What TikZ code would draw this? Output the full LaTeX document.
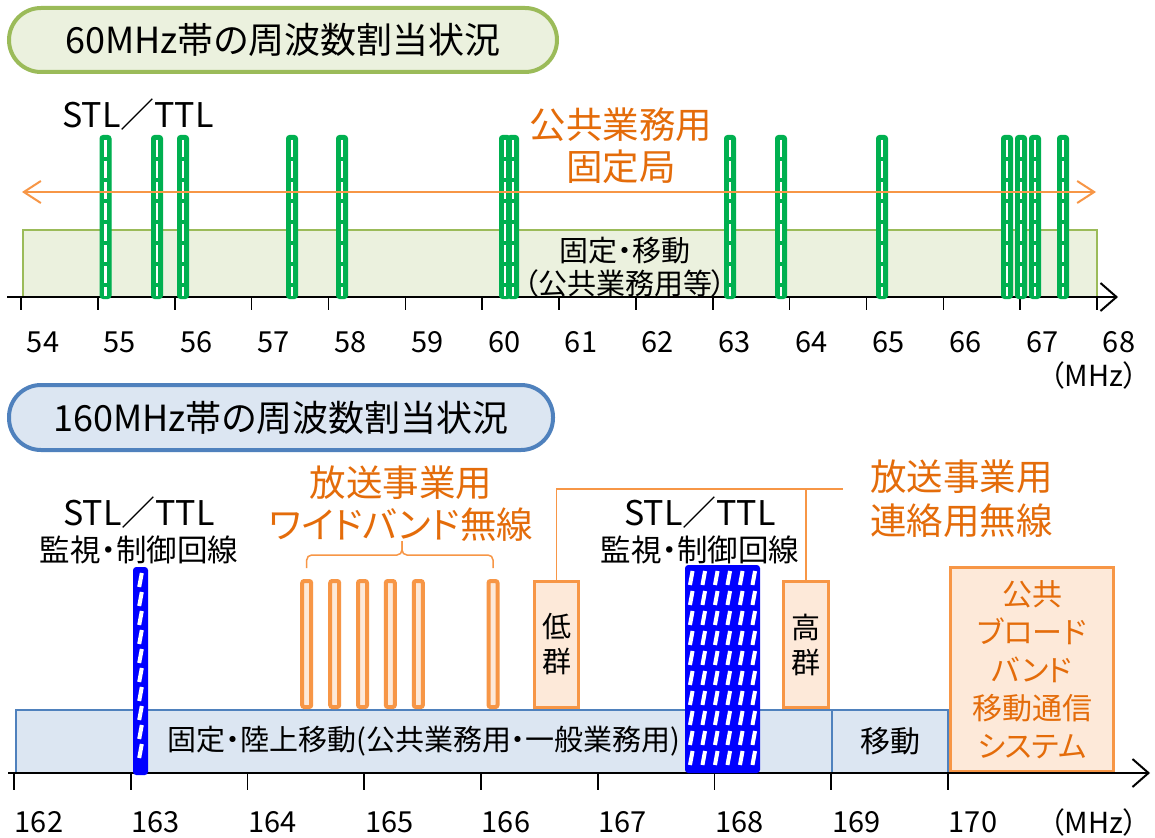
\documentclass[tikz,border=0pt]{standalone}
\usepackage{fontspec}
\setmainfont{Noto Sans CJK JP}[RawFeature=+palt]
\usetikzlibrary{arrows.meta}
\definecolor{gbord}{HTML}{9BBB59}
\definecolor{gfill}{HTML}{EBF1DE}
\definecolor{gbar}{HTML}{00B050}
\definecolor{oline}{HTML}{F79646}
\definecolor{otext}{HTML}{E46C0A}
\definecolor{ofill}{HTML}{FDE9D9}
\definecolor{bbord}{HTML}{4F81BD}
\definecolor{bfill}{HTML}{DCE6F2}
\definecolor{bbar}{HTML}{0000FF}
\newcommand\fsz[2]{\fontsize{#1}{#2}\selectfont}
\newcommand\stlw{{\fsz{34}{36}STL／TTL}}
\tikzset{
  pill/.style={rounded corners=32pt, line width=4pt, inner sep=0pt},
  lbl/.style={inner sep=0pt, align=center},
  axisline/.style={line width=2pt, -{Straight Barb[length=16pt,width=28pt,line width=2pt]}},
  tick/.style={line width=1.6pt},
  numlbl/.style={inner sep=0pt, font=\fsz{29}{34}},
  gbarbox/.style={fill=gbar, draw=gbar, line width=1pt, rounded corners=3pt, minimum width=11pt, minimum height=163pt, inner sep=0pt},
  whitedash/.style={white, line width=2.2pt, dash pattern=on 17pt off 4pt},
  bbarbox/.style={fill=bbar, draw=bbar, line width=3pt, rounded corners=2pt, inner sep=0pt},
  hatch/.style={white, line width=4pt},
  wbar/.style={fill=ofill, draw=oline, line width=4pt, rounded corners=2pt, minimum width=9pt, minimum height=126pt, inner sep=0pt},
  obox/.style={fill=ofill, draw=oline, line width=3.5pt, inner sep=0pt, align=center},
  bband/.style={fill=bfill, draw=bbord, line width=2.5pt, inner sep=0pt, align=center},
  oconn/.style={oline, line width=1.5pt},
}
\begin{document}
\begin{tikzpicture}[x=1pt,y=-1pt]
\useasboundingbox[fill=white] (0,0) rectangle (1155,837);

% ================= 60 MHz =================
\node[pill, draw=gbord, fill=gfill, minimum width=548pt, minimum height=64pt, font=\fsz{36}{40}] (title60) at (283,40) {60MHz帯の周波数割当状況};

\node[lbl] (stl60) at (138,115) {\stlw};

\node[fill=gfill, draw=gbord, line width=2pt, minimum width=1074pt, minimum height=67pt, inner sep=0pt] (band60) at (560,263.5) {};
\node[lbl, font=\fsz{29}{33}] (band60t) at (625,267.5) {固定・移動\\（公共業務用等）};

% axis
\coordinate (ax60s) at (7,297);
\coordinate (ax60e) at (1118,297);
\draw[axisline] (ax60s) -- (ax60e);
\foreach \v [count=\i from 0] in {54,...,68} {
  \coordinate (t60-\i) at ({21+76.86*\i},297);
  \draw[tick] (t60-\i) -- ++(0,13);
  \node[numlbl] (n60-\i) at ({43+76.86*\i},342) {\v};
}
\node[numlbl, anchor=east] (mhz60) at (1138,375) {（MHz）};

% green bars
\foreach \c [count=\i] in {105.5,157,183,292,342,505,513,730,781,882,1007,1021,1035,1063} {
  \node[gbarbox] (g\i) at (\c,217) {};
}
\foreach \i in {1,...,14} {
  \draw[whitedash] ([yshift=-5pt]g\i.north) -- ([yshift=3pt]g\i.south);
}

% orange arrow
\coordinate (oa1) at (22,192);
\coordinate (oa2) at (1096,192);
\draw[oline, line width=2pt, {Straight Barb[length=17pt,width=22pt,line width=2pt]}-{Straight Barb[length=17pt,width=22pt,line width=2pt]}] (oa1) -- (oa2);
\node[lbl, text=otext, font=\fsz{36.5}{42}] (pub60) at (621,146) {公共業務用\\固定局};

% ================= 160 MHz =================
\node[pill, draw=bbord, fill=bfill, minimum width=544pt, minimum height=65pt, font=\fsz{36}{40}] (title160) at (281,417.5) {160MHz帯の周波数割当状況};

\node[lbl, font=\fsz{30.5}{36}] (stl1) at (139,530) {\stlw\\監視・制御回線};
\node[lbl, font=\fsz{30.5}{36}] (stl2) at (700,530) {\stlw\\監視・制御回線};
\node[lbl, text=otext, font=\fsz{36.5}{42.5}] (wide) at (401,503.5) {放送事業用\\ワイドバンド無線};
\node[lbl, text=otext, font=\fsz{36.5}{44}, anchor=west, align=left] (renr) at (870,499) {放送事業用\\連絡用無線};

% bands
\node[bband, minimum width=816pt, minimum height=63pt, font=\fsz{29}{34}] (main) at (424,741.5) {\raisebox{-3pt}{固定・陸上移動(公共業務用・一般業務用)}};
\node[bband, minimum width=116pt, minimum height=63pt, font=\fsz{30}{34}] (ido) at (890,741.5) {\raisebox{-3pt}{移動}};
\node[obox, minimum width=163pt, minimum height=204pt, text=otext, font=\fsz{30}{38}] (pbb) at (1032,669.5) {公共\\ブロード\\バンド\\移動通信\\システム};

% axis
\coordinate (ax16s) at (8,773);
\coordinate (ax16e) at (1150,773);
\draw[axisline] (ax16s) -- (ax16e);
\foreach \v [count=\i from 0] in {162,...,170} {
  \coordinate (t16-\i) at ({14+116.75*\i},773);
  \draw[tick] (t16-\i) -- ++(0,17);
  \node[numlbl] (n16-\i) at ({39+116.75*\i},822) {\v};
}
\node[numlbl, anchor=east] (mhz160) at (1138,822) {（MHz）};

% wideband bars
\foreach \c [count=\i] in {306.7,334.7,362.5,390.3,418.3,493} {
  \node[wbar] (w\i) at (\c,644) {};
}
% bracket
\coordinate (brtop) at (402,541);
\draw[oconn, rounded corners=5pt] (w1.north |- 0,568) -- (w1.north |- 0,555) -- (brtop |- 0,555) -- (brtop);
\draw[oconn, rounded corners=5pt] (w6.north |- 0,568) -- (w6.north |- 0,555) -- (brtop |- 0,555) -- (brtop);

% low / high groups
\node[obox, minimum width=44pt, minimum height=126pt, font=\fsz{29}{35}] (low) at (556.5,644.5) {低\\群};
\node[obox, minimum width=45pt, minimum height=126pt, font=\fsz{29}{35}] (high) at (806,644.5) {高\\群};
\coordinate (conR) at (843,489);
\draw[oconn] (low.north) |- (conR);
\draw[oconn] (high.north) -- (high.north |- conR);

% blue bars
\node[bbarbox, minimum width=12pt, minimum height=205pt] (b163) at (140.5,671) {};
\foreach \y in {572,591,...,755} {
  \draw[hatch] (139.2,\y+15) -- (141.8,\y+1);
}
\node[bbarbox, minimum width=72pt, minimum height=205pt] (b168) at (722.5,669) {};
\foreach \c in {691.25,703.75,716.25,728.75,741.25,753.75} {
  \foreach \y in {570,590,...,755} {
    \draw[hatch] (\c-1.3,\y+15) -- (\c+1.3,\y+1);
  }
}
\end{tikzpicture}
\end{document}
